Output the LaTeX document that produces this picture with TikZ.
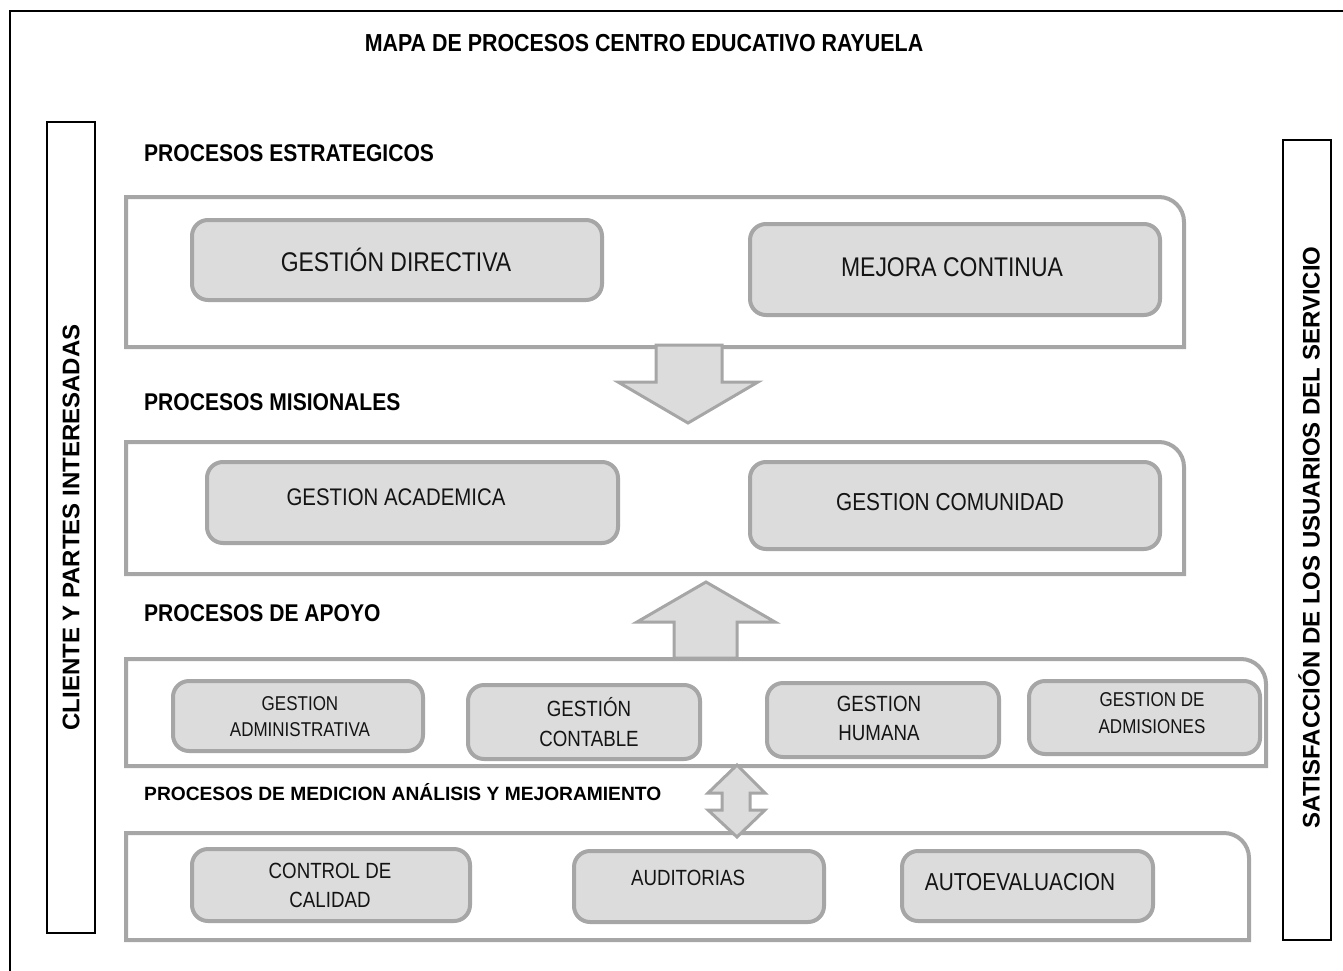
\documentclass[tikz,border=0pt]{standalone}
\usepackage{fontspec}
\setmainfont{Liberation Sans}
\newfontfamily\nf[FakeStretch=0.85]{Liberation Sans}
\newfontfamily\nbf[FakeStretch=0.87]{Liberation Sans}
\definecolor{boxfill}{HTML}{DCDCDC}
\definecolor{boxline}{HTML}{A6A6A6}
\definecolor{txt}{HTML}{141414}
\newcommand{\fs}[2]{\fontsize{#1}{#2}\selectfont}
\tikzset{
  panel/.style={draw=boxline, line width=4pt, fill=white},
  procbox/.style={draw=boxline, fill=boxfill, line width=4pt, rounded corners=16pt, inner sep=0pt},
  boxtext/.style={inner sep=0pt, align=center, text=txt, font=\nf},
  sectitle/.style={inner sep=0pt, anchor=west, font=\nbf\bfseries\fs{24.2}{28}},
  sidebar/.style={draw=black, line width=1.8pt, inner sep=0pt},
  sidetext/.style={inner sep=0pt, rotate=90, font=\bfseries\fs{24}{28}},
  blockarrow/.style={draw=boxline, fill=boxfill, line width=3pt, line join=miter},
}
\begin{document}
\begin{tikzpicture}[x=1pt, y=-1pt]
\useasboundingbox (0,0) rectangle (1343,971);
% outer frame (only top and left visible)
\draw[line width=1.5pt] (10,971) -- (10,11) -- (1343,11);
% title
\node[inner sep=0pt, font=\nbf\bfseries\fs{24.6}{29}] (title) at (644,43) {MAPA DE PROCESOS CENTRO EDUCATIVO RAYUELA};
% side bars
\node[sidebar, minimum width=48pt, minimum height=811pt] (lbar) at (71,527.5) {};
\node[sidetext] (ltext) at (71,527.5) {CLIENTE Y PARTES INTERESADAS};
\node[sidebar, minimum width=48pt, minimum height=800pt] (rbar) at (1307,540) {};
\node[sidetext] (rtext) at (1309,537.5) {SATISFACCIÓN DE LOS USUARIOS DEL SERVICIO};
% section titles
\node[sectitle] (s1) at (144,153) {PROCESOS ESTRATEGICOS};
\node[sectitle] (s2) at (144,402) {PROCESOS MISIONALES};
\node[sectitle] (s3) at (144,613) {PROCESOS DE APOYO};
\node[inner sep=0pt, anchor=west, font=\bfseries\fs{19.2}{23}] (s4) at (144,792) {PROCESOS DE MEDICION ANÁLISIS Y MEJORAMIENTO};
% panels (top-right corner rounded)
\draw[panel] (126,347) -- (126,197) -- (1159,197) arc[start angle=-90, end angle=0, radius=25] -- (1184,347) -- cycle;
\draw[panel] (126,574) -- (126,442) -- (1159,442) arc[start angle=-90, end angle=0, radius=25] -- (1184,574) -- cycle;
\draw[panel] (126,766) -- (126,659) -- (1241,659) arc[start angle=-90, end angle=0, radius=25] -- (1266,766) -- cycle;
\draw[panel] (126,940) -- (126,833) -- (1224,833) arc[start angle=-90, end angle=0, radius=25] -- (1249,940) -- cycle;
% process boxes
\node[procbox, minimum width=410pt, minimum height=80pt] (dir) at (397,260) {};
\node[procbox, minimum width=410pt, minimum height=91pt] (mej) at (955,269.5) {};
\node[procbox, minimum width=411pt, minimum height=81pt] (aca) at (412.5,502.5) {};
\node[procbox, minimum width=410pt, minimum height=87pt] (com) at (955,505.5) {};
\node[procbox, minimum width=250pt, minimum height=70pt] (adm) at (298,716) {};
\node[procbox, minimum width=232pt, minimum height=74pt] (cont) at (584,722) {};
\node[procbox, minimum width=232pt, minimum height=74pt] (hum) at (883,720) {};
\node[procbox, minimum width=231pt, minimum height=73pt] (admi) at (1144.5,717.5) {};
\node[procbox, minimum width=278pt, minimum height=72pt] (cal) at (331,885) {};
\node[procbox, minimum width=250pt, minimum height=71pt] (aud) at (699,886.5) {};
\node[procbox, minimum width=251pt, minimum height=70pt] (auto) at (1027.5,886) {};
% box texts
\node[boxtext, font=\nf\fs{27}{30}] (tdir) at ([xshift=-1pt]dir.center) {GESTIÓN DIRECTIVA};
\node[boxtext, font=\nf\fs{27}{30}] (tmej) at ([xshift=-3pt, yshift=2.5pt]mej.center) {MEJORA CONTINUA};
\node[boxtext, font=\nf\fs{24}{28}] (taca) at ([xshift=-16.5pt, yshift=5.5pt]aca.center) {GESTION ACADEMICA};
\node[boxtext, font=\nf\fs{24.5}{28}] (tcom) at ([xshift=-5pt, yshift=3.5pt]com.center) {GESTION COMUNIDAD};
\node[boxtext, font=\nf\fs{20}{26}] (tadm) at ([xshift=2pt, yshift=-1pt]adm.center) {GESTION\\ADMINISTRATIVA};
\node[boxtext, font=\nf\fs{22}{30}] (tcont) at ([xshift=5pt]cont.center) {GESTIÓN\\CONTABLE};
\node[boxtext, font=\nf\fs{22}{29}] (thum) at ([xshift=-4pt, yshift=1.5pt]hum.center) {GESTION\\HUMANA};
\node[boxtext, font=\nf\fs{20}{27}] (tadmi) at ([xshift=7.5pt, yshift=4pt]admi.center) {GESTION DE\\ADMISIONES};
\node[boxtext, font=\nf\fs{22}{29}] (tcal) at ([xshift=-1pt]cal.center) {CONTROL DE\\CALIDAD};
\node[boxtext, font=\nf\fs{22}{26}] (taud) at ([xshift=-11pt, yshift=8.5pt]aud.center) {AUDITORIAS};
\node[boxtext, font=\nf\fs{24.5}{28}] (tauto) at ([xshift=-7.5pt, yshift=4pt]auto.center) {AUTOEVALUACION};
% block arrows
\draw[blockarrow] (656,345) -- (722,345) -- (722,382) -- (758,382) -- (688,423) -- (618,382) -- (656,382) -- cycle;
\draw[blockarrow] (674,658) -- (737,658) -- (737,622) -- (775,622) -- (706,582) -- (637,622) -- (674,622) -- cycle;
\draw[blockarrow] (737,765) -- (765,793) -- (750,793) -- (750,810) -- (765,810) -- (737,837) -- (708,810) -- (722,810) -- (722,793) -- (708,793) -- cycle;
\end{tikzpicture}
\end{document}
